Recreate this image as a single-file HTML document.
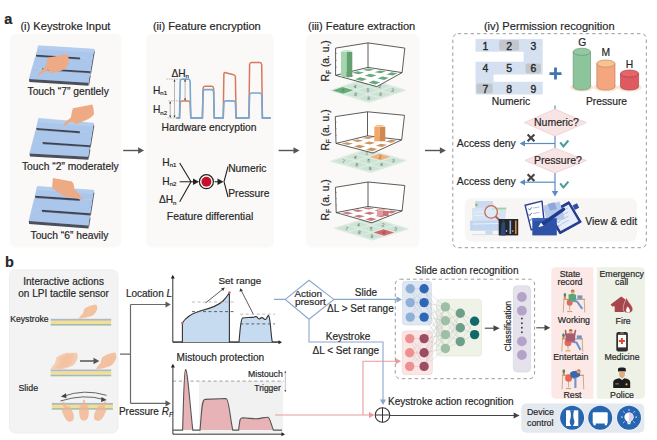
<!DOCTYPE html>
<html><head><meta charset="utf-8">
<style>
html,body{margin:0;padding:0;background:#fff;width:657px;height:440px;overflow:hidden}
svg{display:block}
text{font-family:"Liberation Sans",sans-serif;fill:#262626;stroke:#262626;stroke-width:0.18px}
</style></head><body>
<svg width="657" height="440" viewBox="0 0 657 440">

<text x="4.3" y="23.6" font-size="14.5" fill="#111" font-weight="bold" >a</text>
<rect x="10" y="33.7" width="111.3" height="213.8" rx="6" fill="#faf9f7"/>
<rect x="146.3" y="33.7" width="127.5" height="213.8" rx="6" fill="#faf9f7"/>
<rect x="305.8" y="33.7" width="113.5" height="213.8" rx="6" fill="#faf9f7"/>
<rect x="452.8" y="33.7" width="193.5" height="214" rx="5" fill="none" stroke="#9a9a9a" stroke-width="1" stroke-dasharray="3.4 3"/>
<text x="20.4" y="29.6" font-size="11.1" >(i) Keystroke Input</text>
<text x="152.9" y="29.6" font-size="11.1" >(ii) Feature encryption</text>
<text x="308" y="29.6" font-size="11.1" >(iii) Feature extraction</text>
<text x="483.9" y="29.6" font-size="11.1" >(iv) Permission recognition</text>
<line x1="123.2" y1="150.5" x2="139.1" y2="150.5" stroke="#555" stroke-width="1.4"/>
<path d="M138.1,147.2 L144.1,150.5 L138.1,153.8z" fill="#555"/>
<line x1="278.6" y1="150.5" x2="294.5" y2="150.5" stroke="#555" stroke-width="1.4"/>
<path d="M293.5,147.2 L299.5,150.5 L293.5,153.8z" fill="#555"/>
<line x1="425" y1="150.5" x2="440.9" y2="150.5" stroke="#555" stroke-width="1.4"/>
<path d="M439.9,147.2 L445.9,150.5 L439.9,153.8z" fill="#555"/>
<polygon points="94.00,49.20 90.27,71.14 90.97,74.14 94.70,52.20" fill="#555b6a"/>
<polygon points="89.92,73.15 88.30,82.70 89.00,85.70 90.62,76.15" fill="#555b6a"/>
<polygon points="38.50,45.80 94.00,49.20 92.46,58.25 35.94,54.76" fill="#aac6ea" stroke="#aac6ea" stroke-width="0.35"/>
<polygon points="80.03,57.48 92.46,58.25 92.06,60.59 79.57,59.82" fill="#aac6ea" stroke="#aac6ea" stroke-width="0.35"/>
<polygon points="38.50,45.80 94.00,49.20 93.43,52.55 37.55,49.12" fill="#b4cdee" stroke="#b4cdee" stroke-width="0.35"/>
<polygon points="35.94,54.76 80.03,57.48 80.33,60.48 36.23,57.76" fill="#3d4250"/>
<polygon points="35.36,56.76 92.12,60.26 90.27,71.14 32.28,67.55" fill="#aac6ea" stroke="#aac6ea" stroke-width="0.35"/>
<polygon points="32.28,67.55 42.14,68.16 41.52,70.48 31.61,69.87" fill="#aac6ea" stroke="#aac6ea" stroke-width="0.35"/>
<polygon points="42.14,68.16 90.27,71.14 90.57,74.14 42.44,71.16" fill="#3d4250"/>
<polygon points="31.71,69.54 89.92,73.15 88.30,82.70 29.00,79.00" fill="#aac6ea" stroke="#aac6ea" stroke-width="0.35"/>
<polygon points="29.00,79.00 88.30,82.70 88.60,85.70 29.30,82.00" fill="#4a4f5c"/>
<polygon points="93.50,123.20 89.90,145.21 90.60,148.21 94.20,126.20" fill="#555b6a"/>
<polygon points="89.57,147.22 88.00,156.80 88.70,159.80 90.27,150.22" fill="#555b6a"/>
<polygon points="38.70,118.40 93.50,123.20 92.02,132.27 36.24,127.88" fill="#aac6ea" stroke="#aac6ea" stroke-width="0.35"/>
<polygon points="79.75,131.31 92.02,132.27 91.63,134.62 79.30,133.68" fill="#aac6ea" stroke="#aac6ea" stroke-width="0.35"/>
<polygon points="38.70,118.40 93.50,123.20 92.95,126.56 37.79,121.91" fill="#b4cdee" stroke="#b4cdee" stroke-width="0.35"/>
<polygon points="36.24,127.88 79.75,131.31 80.05,134.31 36.54,130.88" fill="#3d4250"/>
<polygon points="35.70,129.98 91.69,134.29 89.90,145.21 32.74,141.39" fill="#aac6ea" stroke="#aac6ea" stroke-width="0.35"/>
<polygon points="32.74,141.39 42.46,142.04 41.86,144.48 32.10,143.85" fill="#aac6ea" stroke="#aac6ea" stroke-width="0.35"/>
<polygon points="42.46,142.04 89.90,145.21 90.20,148.21 42.76,145.04" fill="#3d4250"/>
<polygon points="32.19,143.50 89.57,147.22 88.00,156.80 29.60,153.50" fill="#aac6ea" stroke="#aac6ea" stroke-width="0.35"/>
<polygon points="29.60,153.50 88.00,156.80 88.30,159.80 29.90,156.50" fill="#4a4f5c"/>
<polygon points="93.60,190.20 90.06,213.32 90.76,216.32 94.30,193.20" fill="#555b6a"/>
<polygon points="89.74,215.44 88.20,225.50 88.90,228.50 90.44,218.44" fill="#555b6a"/>
<polygon points="37.30,186.50 93.60,190.20 92.14,199.73 35.00,195.81" fill="#aac6ea" stroke="#aac6ea" stroke-width="0.35"/>
<polygon points="79.57,198.87 92.14,199.73 91.76,202.20 79.15,201.33" fill="#aac6ea" stroke="#aac6ea" stroke-width="0.35"/>
<polygon points="37.30,186.50 93.60,190.20 93.06,193.73 36.45,189.95" fill="#b4cdee" stroke="#b4cdee" stroke-width="0.35"/>
<polygon points="35.00,195.81 79.57,198.87 79.87,201.87 35.30,198.81" fill="#3d4250"/>
<polygon points="34.49,197.88 91.82,201.85 90.06,213.32 31.73,209.10" fill="#aac6ea" stroke="#aac6ea" stroke-width="0.35"/>
<polygon points="31.73,209.10 41.65,209.82 41.09,212.24 31.14,211.51" fill="#aac6ea" stroke="#aac6ea" stroke-width="0.35"/>
<polygon points="41.65,209.82 90.06,213.32 90.36,216.32 41.95,212.82" fill="#3d4250"/>
<polygon points="31.22,211.17 89.74,215.44 88.20,225.50 28.80,221.00" fill="#aac6ea" stroke="#aac6ea" stroke-width="0.35"/>
<polygon points="28.80,221.00 88.20,225.50 88.50,228.50 29.10,224.00" fill="#4a4f5c"/>
<path d="M47.9,57.7 L67.4,54.1 L68.6,58 L69,63.3 Q66,68.5 61.8,70.4 L55,72.6 Q52,73.5 50.2,72.8 L48.5,70 Q45,71.5 41,74.2 Q38.5,75.8 38,75 Q38.5,73.5 41,71 L45.9,66 Q46.5,61 47.9,57.7z" fill="#eeaa84"/>
<path d="M72.9,108.3 L92.4,104.4 L93.5,109 L94,114.3 Q91.5,117.5 88.4,119.1 L80,122.8 Q77,124 74.5,123.5 L72.3,121.3 Q68,123 65,125.5 Q63,126.8 63,126 Q63.8,124 66,121.5 L70.9,117.5 Q71.5,112 72.9,108.3z" fill="#eeaa84"/>
<path d="M53,178 L72,181.5 L73.6,183.9 L74.4,189.1 Q78.5,193 81.5,197.5 Q82.8,199.5 82,199.6 Q79,199.2 75.5,197.8 L69,197.4 Q63,196 58.5,192.7 L52.2,187.9 Q52.3,182 53,178z" fill="#eeaa84"/>
<text x="27.5" y="94.8" font-size="10.3" >Touch “7” gentlely</text>
<text x="21.9" y="169.9" font-size="10.3" >Touch “2” moderately</text>
<text x="30.5" y="239.4" font-size="10.3" >Touch “6” heavily</text>
<path d="M176.5,117.9 L179.5,117.9 L180.2,103 Q180.5,101 182.0,101 L188.3,101 Q189.8,101 190.10000000000002,103 L190.8,117.9 L202.4,117.9 L203.1,88.3 Q203.4,86.3 204.9,86.3 L211.8,86.3 Q213.3,86.3 213.60000000000002,88.3 L214.3,117.9 L223.2,117.9 L223.89999999999998,73.8 Q224.2,72.0 225.7,72.8 L233.6,74.8 Q235.1,74.8 235.4,76.8 L236.1,117.9 L248.9,117.9 L249.6,64.5 Q249.9,62.5 251.4,62.5 L259.9,62.5 Q261.4,62.5 261.7,64.5 L262.4,117.9 L270.7,117.9" fill="none" stroke="#d8785a" stroke-width="1.5"/>
<path d="M176.5,117.9 L179.5,117.9 L180.2,81.1 Q180.5,79.1 182.0,79.1 L188.3,79.1 Q189.8,79.1 190.10000000000002,81.1 L190.8,117.9 L202.4,117.9 L203.1,91.6 Q203.4,89.6 204.9,89.6 L211.8,89.6 Q213.3,89.6 213.60000000000002,91.6 L214.3,117.9 L223.2,117.9 L223.89999999999998,102.9 Q224.2,100.9 225.7,100.9 L233.6,100.9 Q235.1,100.9 235.4,102.9 L236.1,117.9 L248.9,117.9 L249.6,95 Q249.9,93 251.4,93 L259.9,93 Q261.4,93 261.7,95 L262.4,117.9 L270.7,117.9" fill="none" stroke="#74a8d6" stroke-width="1.6"/>
<g stroke="#888" stroke-width="0.6" stroke-dasharray="1.5 1">
<line x1="166.3" y1="79.1" x2="181" y2="79.1"/><line x1="168.4" y1="100.9" x2="181" y2="100.9"/><line x1="167.7" y1="117.9" x2="178" y2="117.9"/>
</g>
<g stroke="#999" stroke-width="0.7">
<line x1="174.5" y1="80" x2="174.5" y2="117"/><line x1="170.2" y1="102" x2="170.2" y2="117"/><line x1="185.1" y1="80" x2="185.1" y2="100"/>
</g>
<g fill="#333"><path d="M173.5,81.5 L174.5,79.3 L175.5,81.5z"/><path d="M173.5,115.5 L174.5,117.7 L175.5,115.5z"/><path d="M169.2,103.5 L170.2,101.3 L171.2,103.5z"/><path d="M169.2,115.5 L170.2,117.7 L171.2,115.5z"/><path d="M184.1,81.5 L185.1,79.3 L186.1,81.5z"/><path d="M184.1,98.5 L185.1,100.7 L186.1,98.5z"/></g>
<text x="171.4" y="76.8" font-size="10.2">ΔH<tspan font-size="6.1" dy="1.6">n</tspan></text>
<text x="153" y="93.6" font-size="10.2">H<tspan font-size="6.1" dy="1.6">n1</tspan></text>
<text x="153" y="113.4" font-size="10.2">H<tspan font-size="6.1" dy="1.6">n2</tspan></text>
<text x="161.5" y="131.2" font-size="10.3" >Hardware encryption</text>
<text x="162.3" y="165.8" font-size="10.2">H<tspan font-size="6.1" dy="1.6">n1</tspan></text>
<text x="162.3" y="184.6" font-size="10.2">H<tspan font-size="6.1" dy="1.6">n2</tspan></text>
<text x="158.9" y="203.4" font-size="10.2">ΔH<tspan font-size="6.1" dy="1.6">n</tspan></text>
<g stroke="#222" stroke-width="1.1" fill="none"><path d="M179.7,163 L191,181.7 L179.7,201.8 M179.7,181.7 L194,181.7"/>
<path d="M214.5,181.7 L220,181.7 M224,181.7 L227.4,169 L228,166.5 M224,181.7 L227.4,194.5 L228,197"/></g>
<path d="M193,178.4 L199,181.7 L193,185z" fill="#222"/>
<path d="M217.5,178.4 L223.5,181.7 L217.5,185z" fill="#222"/>
<circle cx="206.4" cy="181.7" r="7" fill="#fff" stroke="#222" stroke-width="1.2"/>
<circle cx="206.4" cy="181.7" r="5" fill="#c8102e"/>
<text x="228.2" y="171.8" font-size="10.3" >Numeric</text>
<text x="228.2" y="196.5" font-size="10.3" >Pressure</text>
<text x="166.8" y="220.2" font-size="10.4" >Feature differential</text>
<polygon points="366.8,78.5 405.1,90.3 368.8,102.2 330.5,90.4" fill="#dfece3" stroke="#dfece3" stroke-width="1.5" stroke-linejoin="round"/>
<polygon points="366.85,79.13 377.58,82.44 367.41,85.77 356.69,82.46" fill="#cde3d5"/>
<text x="367.1" y="84.0" font-size="4.6" text-anchor="middle" style="fill:#3d5a49;stroke:none" transform="rotate(12 367.1 82.5)">1</text>
<polygon points="354.75,83.10 365.48,86.40 355.31,89.73 344.59,86.43" fill="#cde3d5"/>
<text x="355.0" y="88.0" font-size="4.6" text-anchor="middle" style="fill:#3d5a49;stroke:none" transform="rotate(12 355.0 86.4)">4</text>
<polygon points="342.65,87.07 353.38,90.37 343.21,93.70 332.49,90.40" fill="#66ad78"/>
<text x="342.9" y="92.0" font-size="4.6" text-anchor="middle" style="fill:#3d5a49;stroke:none" transform="rotate(12 342.9 90.4)">7</text>
<polygon points="379.62,83.07 390.34,86.37 380.18,89.70 369.46,86.40" fill="#cde3d5"/>
<text x="379.9" y="88.0" font-size="4.6" text-anchor="middle" style="fill:#3d5a49;stroke:none" transform="rotate(12 379.9 86.4)">2</text>
<polygon points="367.52,87.03 378.24,90.34 368.08,93.67 357.36,90.36" fill="#cde3d5"/>
<text x="367.8" y="91.9" font-size="4.6" text-anchor="middle" style="fill:#3d5a49;stroke:none" transform="rotate(12 367.8 90.3)">5</text>
<polygon points="355.42,91.00 366.14,94.30 355.98,97.63 345.26,94.33" fill="#cde3d5"/>
<text x="355.7" y="95.9" font-size="4.6" text-anchor="middle" style="fill:#3d5a49;stroke:none" transform="rotate(12 355.7 94.3)">8</text>
<polygon points="392.39,87.00 403.11,90.30 392.95,93.63 382.22,90.33" fill="#cde3d5"/>
<text x="392.7" y="91.9" font-size="4.6" text-anchor="middle" style="fill:#3d5a49;stroke:none" transform="rotate(12 392.7 90.3)">3</text>
<polygon points="380.29,90.97 391.01,94.27 380.85,97.60 370.12,94.30" fill="#cde3d5"/>
<text x="380.6" y="95.9" font-size="4.6" text-anchor="middle" style="fill:#3d5a49;stroke:none" transform="rotate(12 380.6 94.3)">6</text>
<polygon points="368.19,94.93 378.91,98.24 368.75,101.57 358.02,98.26" fill="#cde3d5"/>
<text x="368.5" y="99.8" font-size="4.6" text-anchor="middle" style="fill:#3d5a49;stroke:none" transform="rotate(12 368.5 98.2)">9</text>
<polygon points="335.6,48.1 368,42.9 404.8,48.1 402.1,72.6 376.8,86.6 335.6,75.3" fill="#fff"/>
<polygon points="368.18,68.49 374.19,69.47 368.89,71.11 362.66,69.94" fill="#6aa97b"/>
<polygon points="357.57,71.28 363.99,72.62 358.69,74.26 352.05,72.74" fill="#6aa97b"/>
<polygon points="346.96,74.08 353.79,75.77 348.49,77.41 341.44,75.53" fill="#6aa97b"/>
<polygon points="379.74,70.38 385.75,71.37 380.85,73.36 374.63,72.19" fill="#6aa97b"/>
<polygon points="369.92,73.86 376.34,75.20 371.44,77.18 364.81,75.66" fill="#6aa97b"/>
<polygon points="360.09,77.33 366.92,79.02 362.03,81.01 354.99,79.14" fill="#6aa97b"/>
<polygon points="391.29,72.28 397.30,73.26 392.82,75.61 386.60,74.44" fill="#6aa97b"/>
<polygon points="382.26,76.43 388.68,77.77 384.20,80.11 377.56,78.59" fill="#6aa97b"/>
<polygon points="373.23,80.58 380.06,82.27 375.57,84.62 368.53,82.74" fill="#6aa97b"/>
<path d="M335.6,48.1 L368,42.9 L404.8,48.1 M368,42.9 L368,67.4 M335.6,48.1 L335.6,75.3 L376.8,86.6 L402.1,72.6 L404.8,48.1 M335.6,75.3 L368,67.4 L402.1,72.6" fill="none" stroke="#333" stroke-width="0.8" stroke-linejoin="round"/>
<line x1="335.6" y1="53.5" x2="337.1" y2="53.5" stroke="#666" stroke-width="0.5"/>
<line x1="335.6" y1="60.3" x2="337.1" y2="60.3" stroke="#666" stroke-width="0.5"/>
<line x1="335.6" y1="67.1" x2="337.1" y2="67.1" stroke="#666" stroke-width="0.5"/>
<rect x="340.9" y="51.699999999999996" width="5.70" height="25.3" fill="#a3d6ad"/>
<rect x="346.60" y="51.699999999999996" width="5.70" height="25.3" fill="#62a071"/>
<polygon points="340.9,51.699999999999996 343.75,49.9 352.3,49.9 346.60,51.699999999999996" fill="#c5e8cb"/>
<text transform="translate(329.3,81.4) rotate(-90)" font-size="10.3">R<tspan font-size="6.5" dy="1.8">F</tspan><tspan dy="-1.8"> (a. u.)</tspan></text>
<polygon points="366.1,149.5 405.8,160.5 370.9,172.2 331.2,161.2" fill="#dfece3" stroke="#dfece3" stroke-width="1.5" stroke-linejoin="round"/>
<polygon points="366.23,150.11 377.34,153.19 367.57,156.46 356.46,153.38" fill="#cde3d5"/>
<text x="366.9" y="154.9" font-size="4.6" text-anchor="middle" style="fill:#3d5a49;stroke:none" transform="rotate(12 366.9 153.3)">1</text>
<polygon points="354.59,154.01 365.71,157.09 355.94,160.36 344.82,157.28" fill="#cde3d5"/>
<text x="355.3" y="158.8" font-size="4.6" text-anchor="middle" style="fill:#3d5a49;stroke:none" transform="rotate(12 355.3 157.2)">4</text>
<polygon points="342.96,157.91 354.08,160.99 344.31,164.26 333.19,161.18" fill="#cde3d5"/>
<text x="343.6" y="162.7" font-size="4.6" text-anchor="middle" style="fill:#3d5a49;stroke:none" transform="rotate(12 343.6 161.1)">7</text>
<polygon points="379.46,153.77 390.58,156.85 380.81,160.13 369.69,157.05" fill="#f0b27a"/>
<text x="380.1" y="158.6" font-size="4.6" text-anchor="middle" style="fill:#3d5a49;stroke:none" transform="rotate(12 380.1 157.0)">2</text>
<polygon points="367.83,157.67 378.94,160.75 369.17,164.03 358.06,160.95" fill="#cde3d5"/>
<text x="368.5" y="162.4" font-size="4.6" text-anchor="middle" style="fill:#3d5a49;stroke:none" transform="rotate(12 368.5 160.8)">5</text>
<polygon points="356.19,161.57 367.31,164.65 357.54,167.93 346.42,164.85" fill="#cde3d5"/>
<text x="356.9" y="166.3" font-size="4.6" text-anchor="middle" style="fill:#3d5a49;stroke:none" transform="rotate(12 356.9 164.8)">8</text>
<polygon points="392.69,157.44 403.81,160.52 394.04,163.79 382.92,160.71" fill="#cde3d5"/>
<text x="393.4" y="162.2" font-size="4.6" text-anchor="middle" style="fill:#3d5a49;stroke:none" transform="rotate(12 393.4 160.6)">3</text>
<polygon points="381.06,161.34 392.18,164.42 382.41,167.69 371.29,164.61" fill="#cde3d5"/>
<text x="381.7" y="166.1" font-size="4.6" text-anchor="middle" style="fill:#3d5a49;stroke:none" transform="rotate(12 381.7 164.5)">6</text>
<polygon points="369.43,165.24 380.54,168.32 370.77,171.59 359.66,168.51" fill="#cde3d5"/>
<text x="370.1" y="170.0" font-size="4.6" text-anchor="middle" style="fill:#3d5a49;stroke:none" transform="rotate(12 370.1 168.4)">9</text>
<polygon points="335.3,116.6 367.5,111.8 404.5,115.3 401.7,139.9 373,153 336,143.4" fill="#fff"/>
<polygon points="367.73,136.77 373.70,137.56 368.36,139.12 362.31,138.16" fill="#cf945f"/>
<polygon points="357.31,139.45 363.44,140.56 358.10,142.11 351.89,140.84" fill="#cf945f"/>
<polygon points="346.88,142.13 353.17,143.55 347.84,145.11 341.46,143.52" fill="#cf945f"/>
<polygon points="379.21,138.28 385.18,139.07 380.00,140.95 373.95,140.00" fill="#cf945f"/>
<polygon points="369.09,141.58 375.22,142.68 370.05,144.56 363.83,143.29" fill="#cf945f"/>
<polygon points="358.98,144.87 365.27,146.29 360.10,148.17 353.72,146.58" fill="#cf945f"/>
<polygon points="390.68,139.80 396.65,140.58 391.64,142.78 385.59,141.83" fill="#cf945f"/>
<polygon points="380.88,143.70 387.01,144.80 382.00,147.00 375.78,145.73" fill="#cf945f"/>
<polygon points="371.08,147.60 377.37,149.02 372.35,151.22 365.98,149.63" fill="#cf945f"/>
<path d="M335.3,116.6 L367.5,111.8 L404.5,115.3 M367.5,111.8 L367.5,135.8 M335.3,116.6 L336,143.4 L373,153 L401.7,139.9 L404.5,115.3 M336,143.4 L367.5,135.8 L401.7,139.9" fill="none" stroke="#333" stroke-width="0.8" stroke-linejoin="round"/>
<line x1="335.3" y1="122.0" x2="336.8" y2="122.0" stroke="#666" stroke-width="0.5"/>
<line x1="335.3" y1="128.7" x2="336.8" y2="128.7" stroke="#666" stroke-width="0.5"/>
<line x1="335.3" y1="135.4" x2="336.8" y2="135.4" stroke="#666" stroke-width="0.5"/>
<rect x="374.3" y="126.7" width="5.50" height="14.600000000000005" fill="#f2a86a"/>
<rect x="379.80" y="126.7" width="5.50" height="14.600000000000005" fill="#cf8a52"/>
<polygon points="374.3,126.7 377.05,124.9 385.3,124.9 379.80,126.7" fill="#f7c08a"/>
<text transform="translate(329.3,150.6) rotate(-90)" font-size="10.3">R<tspan font-size="6.5" dy="1.8">F</tspan><tspan dy="-1.8"> (a. u.)</tspan></text>
<polygon points="370.2,217.4 407.9,229 372.3,239.9 334.6,228.3" fill="#dfece3" stroke="#dfece3" stroke-width="1.5" stroke-linejoin="round"/>
<polygon points="370.26,218.00 380.81,221.25 370.84,224.30 360.29,221.05" fill="#cde3d5"/>
<text x="370.6" y="222.8" font-size="4.6" text-anchor="middle" style="fill:#3d5a49;stroke:none" transform="rotate(12 370.6 221.2)">1</text>
<polygon points="358.39,221.63 368.95,224.88 358.98,227.93 348.42,224.69" fill="#cde3d5"/>
<text x="358.7" y="226.4" font-size="4.6" text-anchor="middle" style="fill:#3d5a49;stroke:none" transform="rotate(12 358.7 224.8)">4</text>
<polygon points="346.52,225.27 357.08,228.51 347.11,231.57 336.55,228.32" fill="#cde3d5"/>
<text x="346.8" y="230.0" font-size="4.6" text-anchor="middle" style="fill:#3d5a49;stroke:none" transform="rotate(12 346.8 228.4)">7</text>
<polygon points="382.82,221.87 393.38,225.11 383.41,228.17 372.85,224.92" fill="#cde3d5"/>
<text x="383.1" y="226.6" font-size="4.6" text-anchor="middle" style="fill:#3d5a49;stroke:none" transform="rotate(12 383.1 225.0)">2</text>
<polygon points="370.96,225.50 381.51,228.75 371.54,231.80 360.99,228.55" fill="#cde3d5"/>
<text x="371.2" y="230.2" font-size="4.6" text-anchor="middle" style="fill:#3d5a49;stroke:none" transform="rotate(12 371.2 228.6)">5</text>
<polygon points="359.09,229.13 369.65,232.38 359.68,235.43 349.12,232.19" fill="#cde3d5"/>
<text x="359.4" y="233.9" font-size="4.6" text-anchor="middle" style="fill:#3d5a49;stroke:none" transform="rotate(12 359.4 232.3)">8</text>
<polygon points="395.39,225.73 405.95,228.98 395.98,232.03 385.42,228.79" fill="#cde3d5"/>
<text x="395.7" y="230.5" font-size="4.6" text-anchor="middle" style="fill:#3d5a49;stroke:none" transform="rotate(12 395.7 228.9)">3</text>
<polygon points="383.52,229.37 394.08,232.61 384.11,235.67 373.55,232.42" fill="#d4676b"/>
<text x="383.8" y="234.1" font-size="4.6" text-anchor="middle" style="fill:#3d5a49;stroke:none" transform="rotate(12 383.8 232.5)">6</text>
<polygon points="371.66,233.00 382.21,236.25 372.24,239.30 361.69,236.05" fill="#cde3d5"/>
<text x="371.9" y="237.8" font-size="4.6" text-anchor="middle" style="fill:#3d5a49;stroke:none" transform="rotate(12 371.9 236.2)">9</text>
<polygon points="335.5,187.3 368,182 404.8,185.5 402.1,210.9 371.8,222.8 336.2,212.6" fill="#fff"/>
<polygon points="368.19,207.38 374.13,208.22 368.68,209.53 362.70,208.51" fill="#c77b80"/>
<polygon points="357.63,209.57 363.65,210.74 358.21,212.06 352.14,210.70" fill="#c77b80"/>
<polygon points="347.07,211.75 353.18,213.27 347.73,214.58 341.58,212.89" fill="#c77b80"/>
<polygon points="379.60,209.00 385.53,209.84 380.17,211.49 374.20,210.47" fill="#c77b80"/>
<polygon points="369.21,211.83 375.23,213.01 369.87,214.66 363.80,213.30" fill="#c77b80"/>
<polygon points="358.81,214.66 364.92,216.18 359.56,217.82 353.41,216.14" fill="#c77b80"/>
<polygon points="391.01,210.62 396.94,211.46 391.67,213.45 385.69,212.43" fill="#c77b80"/>
<polygon points="380.78,214.10 386.80,215.27 381.53,217.26 375.46,215.90" fill="#c77b80"/>
<polygon points="370.55,217.57 376.66,219.09 371.39,221.07 365.24,219.38" fill="#c77b80"/>
<path d="M335.5,187.3 L368,182 L404.8,185.5 M368,182 L368,206.5 M335.5,187.3 L336.2,212.6 L371.8,222.8 L402.1,210.9 L404.8,185.5 M336.2,212.6 L368,206.5 L402.1,210.9" fill="none" stroke="#333" stroke-width="0.8" stroke-linejoin="round"/>
<line x1="335.5" y1="192.4" x2="337.0" y2="192.4" stroke="#666" stroke-width="0.5"/>
<line x1="335.5" y1="198.7" x2="337.0" y2="198.7" stroke="#666" stroke-width="0.5"/>
<line x1="335.5" y1="205.0" x2="337.0" y2="205.0" stroke="#666" stroke-width="0.5"/>
<rect x="377" y="210.9" width="5.85" height="5.100000000000006" fill="#e59a9c"/>
<rect x="382.85" y="210.9" width="5.85" height="5.100000000000006" fill="#c97478"/>
<polygon points="377,210.9 379.93,209.1 388.7,209.1 382.85,210.9" fill="#efb4b6"/>
<text transform="translate(329.3,220.5) rotate(-90)" font-size="10.3">R<tspan font-size="6.5" dy="1.8">F</tspan><tspan dy="-1.8"> (a. u.)</tspan></text>
<path d="M475.5,39.1 L542.7,39.1 L542.7,74.5 L493.6,74.5 L493.6,81.8 L542.7,81.8 L542.7,94.5 L475.5,94.5 L475.5,61.8 L523.6,61.8 L523.6,51.8 L475.5,51.8z" fill="#d5e1f0"/>
<rect x="499.1" y="40" width="20" height="10.4" rx="2" fill="#c2c6cd"/>
<rect x="525.5" y="63.6" width="15.4" height="10" rx="2" fill="#c2c6cd"/>
<rect x="476.4" y="83.6" width="16.3" height="10" rx="2" fill="#c2c6cd"/>
<text x="485.5" y="50" font-size="10.4" text-anchor="middle" style="stroke-width:0.35px">1</text>
<text x="509.1" y="50" font-size="10.4" text-anchor="middle" style="stroke-width:0.35px">2</text>
<text x="533.3" y="50" font-size="10.4" text-anchor="middle" style="stroke-width:0.35px">3</text>
<text x="485.5" y="72.2" font-size="10.4" text-anchor="middle" style="stroke-width:0.35px">4</text>
<text x="509.1" y="72.2" font-size="10.4" text-anchor="middle" style="stroke-width:0.35px">5</text>
<text x="533.3" y="72.2" font-size="10.4" text-anchor="middle" style="stroke-width:0.35px">6</text>
<text x="485.5" y="92.7" font-size="10.4" text-anchor="middle" style="stroke-width:0.35px">7</text>
<text x="509.1" y="92.7" font-size="10.4" text-anchor="middle" style="stroke-width:0.35px">8</text>
<text x="533.3" y="92.7" font-size="10.4" text-anchor="middle" style="stroke-width:0.35px">9</text>
<text x="491.8" y="104.5" font-size="10.3" >Numeric</text>
<path d="M549.5,73.6 L561.5,73.6 M555.5,67.6 L555.5,79.6" stroke="#3f74b3" stroke-width="2.8"/>
<ellipse cx="581.85" cy="87.5" rx="11.649999999999977" ry="4.1" fill="#fbe3d2"/>
<path d="M573.2,51.8 L573.2,86.5 A8.649999999999977,3.6 0 0 0 590.5,86.5 L590.5,51.8z" fill="#8cc49c" stroke="#5e8f6b" stroke-width="0.6"/>
<ellipse cx="581.85" cy="51.8" rx="8.649999999999977" ry="3.6" fill="#93c9a2" stroke="#5e8f6b" stroke-width="0.6"/>
<ellipse cx="605.9" cy="87.5" rx="12.100000000000023" ry="4.1" fill="#fbe3d2"/>
<path d="M596.8,63.6 L596.8,86.5 A9.100000000000023,3.6 0 0 0 615,86.5 L615,63.6z" fill="#f5a67f" stroke="#b77a58" stroke-width="0.6"/>
<ellipse cx="605.9" cy="63.6" rx="9.100000000000023" ry="3.6" fill="#f7c38f" stroke="#b77a58" stroke-width="0.6"/>
<ellipse cx="629.55" cy="87.5" rx="12.050000000000011" ry="4.1" fill="#fbe3d2"/>
<path d="M620.5,73.6 L620.5,86.5 A9.050000000000011,3.6 0 0 0 638.6,86.5 L638.6,73.6z" fill="#de5a60" stroke="#9c3c40" stroke-width="0.6"/>
<ellipse cx="629.55" cy="73.6" rx="9.050000000000011" ry="3.6" fill="#e4656a" stroke="#9c3c40" stroke-width="0.6"/>
<text x="582.3" y="45.5" font-size="10.3" text-anchor="middle" >G</text>
<text x="605.9" y="56.4" font-size="10.3" text-anchor="middle" >M</text>
<text x="629.5" y="68.2" font-size="10.3" text-anchor="middle" >H</text>
<text x="585.9" y="104.5" font-size="10.3" >Pressure</text>
<path d="M555,105.5 L555,109 M555,136 L555,148 M555,173 L555,192" stroke="#5b8cc4" stroke-width="1.2"/>
<path d="M551.8,191 L555,196.5 L558.2,191z" fill="#5b8cc4"/>
<polygon points="524.2,122.6 555,109.1 586.3,122.6 555,136.1" fill="#f8e4e4" stroke="#ecc9c9" stroke-width="0.7"/>
<polygon points="524.9,160.5 555,148 586.3,160.5 555,173" fill="#f8e4e4" stroke="#ecc9c9" stroke-width="0.7"/>
<text x="534" y="125.6" font-size="10.5" >Numeric?</text>
<text x="534" y="163.9" font-size="10.5" >Pressure?</text>
<path d="M555,143.5 L524,143.5" stroke="#5b8cc4" stroke-width="1.2"/>
<path d="M525,140.5 L519.6,143.5 L525,146.5z" fill="#5b8cc4"/>
<path d="M527.6,134.4 L534.4,141.20000000000002 M534.4,134.4 L527.6,141.20000000000002" stroke="#444" stroke-width="2.1"/>
<path d="M560.2,142.3 L563.4,146.4 L568.4,140.5" fill="none" stroke="#4a9a98" stroke-width="2"/>
<path d="M555,182.2 L524,182.2" stroke="#5b8cc4" stroke-width="1.2"/>
<path d="M525,179.2 L519.6,182.2 L525,185.2z" fill="#5b8cc4"/>
<path d="M527.6,174.2 L534.4,181.0 M534.4,174.2 L527.6,181.0" stroke="#444" stroke-width="2.1"/>
<path d="M560.2,183.4 L563.4,187.5 L568.4,181.6" fill="none" stroke="#4a9a98" stroke-width="2"/>
<text x="456.8" y="146.8" font-size="10.4" >Access deny</text>
<text x="456.8" y="184.5" font-size="10.4" >Access deny</text>
<rect x="464.8" y="198.3" width="172.2" height="43.5" rx="7" fill="#f7f6f4"/>
<text x="585.3" y="225.2" font-size="10.4" >View &amp; edit</text>
<path d="M475.2,201.1 L492.6,201.1 L494,207.3 L475.2,210z" fill="#c9daf1"/>
<path d="M472.2,208 L506.9,207.3 L505,219.5 L472.2,220.5z" fill="#d6e3f5"/>
<path d="M470.1,220.6 L503.9,220 L503.9,230.8 L470.1,230.8z" fill="#c3d6ef"/>
<path d="M474,212 L500,211.5 M474,215.5 L498,215 M473,224 L500,223.5" stroke="#e9f0fa" stroke-width="1"/>
<rect x="485.4" y="230.8" width="7.2" height="3.6" fill="#c9d9ee"/><path d="M472,234.6 L500,234.6" stroke="#cdd9ea" stroke-width="0.8"/>
<rect x="491.6" y="207.8" width="14.3" height="1.6" fill="#a4d48c"/>
<rect x="475.4" y="203.6" width="2" height="2.6" fill="#7fbf5f"/>
<circle cx="491.1" cy="211.9" r="6.3" fill="#e2ecf8" fill-opacity="0.6" stroke="#c86a5a" stroke-width="1.3"/>
<path d="M495.8,216.6 L505.9,226.7" stroke="#b9574a" stroke-width="2"/>
<rect x="498.7" y="219" width="19.5" height="16.4" fill="#23262c"/>
<rect x="509.5" y="220.5" width="1.6" height="13.5" fill="#8fb0d8"/><rect x="515" y="220.5" width="1.6" height="13.5" fill="#e08a3a"/>
<circle cx="506.5" cy="231" r="0.8" fill="#fff"/><circle cx="512.8" cy="231" r="0.8" fill="#f0c060"/>
<path d="M500.5,235.4 L501.5,224 C502,221.5 504,220.5 505,222.5 L505.5,235.4z" fill="#2f4870"/><circle cx="503.2" cy="220.8" r="1.4" fill="#2a3550"/>
<polygon points="525.1,205.2 542,201.1 544.5,225.7 531.2,229.8" fill="#fff" stroke="#2b3f8c" stroke-width="1.4" stroke-linejoin="round"/>
<path d="M528.5,208.5 l1.2,1.6 l2.2,-2.8" fill="none" stroke="#3a56a8" stroke-width="0.8"/>
<line x1="533.2" y1="208.0" x2="539.5" y2="206.9" stroke="#9fb4dc" stroke-width="0.9"/>
<path d="M528.5,214.0 l1.2,1.6 l2.2,-2.8" fill="none" stroke="#3a56a8" stroke-width="0.8"/>
<line x1="533.2" y1="213.5" x2="539.5" y2="212.4" stroke="#9fb4dc" stroke-width="0.9"/>
<path d="M528.5,219.5 l1.2,1.6 l2.2,-2.8" fill="none" stroke="#3a56a8" stroke-width="0.8"/>
<line x1="533.2" y1="219.0" x2="539.5" y2="217.9" stroke="#9fb4dc" stroke-width="0.9"/>
<polygon points="569,201.6 581.3,222.1 559.9,233.9 547.6,213.4" fill="#263d8f" stroke="#263d8f" stroke-width="1" stroke-linejoin="round"/>
<polygon points="568.6,204.6 578.4,221.2 560.6,230.9 550.8,214.3" fill="#e8eef9"/>
<path d="M556.0,213.0 l1.3,1.5 l2,-2.2" fill="none" stroke="#8aa3d6" stroke-width="0.8"/><line x1="560.0" y1="212.0" x2="568.0" y2="208.0" stroke="#a9bde3" stroke-width="0.8"/>
<path d="M556.6,217.0 l1.3,1.5 l2,-2.2" fill="none" stroke="#8aa3d6" stroke-width="0.8"/><line x1="560.6" y1="216.0" x2="568.3" y2="212.0" stroke="#a9bde3" stroke-width="0.8"/>
<path d="M557.1,221.0 l1.3,1.5 l2,-2.2" fill="none" stroke="#8aa3d6" stroke-width="0.8"/><line x1="561.1" y1="220.0" x2="568.6" y2="216.0" stroke="#a9bde3" stroke-width="0.8"/>
<path d="M557.7,225.0 l1.3,1.5 l2,-2.2" fill="none" stroke="#8aa3d6" stroke-width="0.8"/><line x1="561.7" y1="224.0" x2="568.9" y2="220.0" stroke="#a9bde3" stroke-width="0.8"/>
<polygon points="572.5,205.5 577,203.2 579.2,207.8 574.8,210" fill="#3050a0"/>
<polygon points="543,206 559.5,201.5 565,219 547,222" fill="#b7c9ea"/>
<polygon points="547.5,204 554.5,202.3 557,209 550,210.8" fill="#8fa8d8"/>
<rect x="532.3" y="218.2" width="24.5" height="17.2" fill="#2d52a6"/>
<polygon points="532.3,218.2 544,218.2 546,221 532.3,221" fill="#3b62b8"/>
<path d="M542.5,224 L563.5,209.3" stroke="#1f3c8f" stroke-width="3.4" stroke-linecap="round"/>
<path d="M538.3,227.2 L541,222.5 L543.6,225.8z" fill="#f2f5fb"/>
<text x="5" y="266.6" font-size="14.5" fill="#111" font-weight="bold" >b</text>
<rect x="9.5" y="269.8" width="108.4" height="163.3" rx="6" fill="#f3f3f3" stroke="#ebebeb" stroke-width="0.8"/>
<text x="63.6" y="284.6" font-size="10" text-anchor="middle" >Interactive actions</text>
<text x="63.6" y="296.5" font-size="10" text-anchor="middle" >on LPI tactile sensor</text>
<text x="10.3" y="321.6" font-size="8.6" >Keystroke</text>
<text x="18.5" y="390.9" font-size="8.8" >Slide</text>
<rect x="50.7" y="318.8" width="60.5" height="2" fill="#b0b8c2"/>
<rect x="50.7" y="320.8" width="60.5" height="3.2" fill="#f3de94"/>
<rect x="50.7" y="324.0" width="60.5" height="1.6" fill="#a3bcac"/>
<rect x="50.7" y="369.5" width="60.5" height="2" fill="#b0b8c2"/>
<rect x="50.7" y="371.5" width="60.5" height="3.2" fill="#f3de94"/>
<rect x="50.7" y="374.7" width="60.5" height="1.6" fill="#a3bcac"/>
<rect x="51.8" y="402.9" width="61.10000000000001" height="2" fill="#b0b8c2"/>
<rect x="51.8" y="404.9" width="61.10000000000001" height="3.2" fill="#f3de94"/>
<rect x="51.8" y="408.09999999999997" width="61.10000000000001" height="1.6" fill="#a3bcac"/>
<path transform="translate(78.7,304.6) scale(0.92,0.84)" d="M6,5 C10,2 15,0.5 19,0 C20,2 20.5,4 20,6 C18.5,10 16,13 13,14 C9,15.5 4,16.5 0,17 C1,15 2.5,12.5 4.5,11 C5,9 5.5,7 6,5z" fill="#f3c1a0" opacity="1.0"/>
<path transform="translate(50.7,352.4) scale(0.95,1.0)" d="M6,5 C10,2 15,0.5 19,0 C20,2 20.5,4 20,6 C18.5,10 16,13 13,14 C9,15.5 4,16.5 0,17 C1,15 2.5,12.5 4.5,11 C5,9 5.5,7 6,5z" fill="#f3c1a0" opacity="0.75"/>
<path transform="translate(54.5,352.4) scale(0.95,1.0)" d="M6,5 C10,2 15,0.5 19,0 C20,2 20.5,4 20,6 C18.5,10 16,13 13,14 C9,15.5 4,16.5 0,17 C1,15 2.5,12.5 4.5,11 C5,9 5.5,7 6,5z" fill="#f3c1a0" opacity="0.75"/>
<path transform="translate(58.5,352.4) scale(0.95,1.0)" d="M6,5 C10,2 15,0.5 19,0 C20,2 20.5,4 20,6 C18.5,10 16,13 13,14 C9,15.5 4,16.5 0,17 C1,15 2.5,12.5 4.5,11 C5,9 5.5,7 6,5z" fill="#f3c1a0" opacity="0.8"/>
<path transform="translate(95.8,352.4) scale(1.02,1.0)" d="M6,5 C10,2 15,0.5 19,0 C20,2 20.5,4 20,6 C18.5,10 16,13 13,14 C9,15.5 4,16.5 0,17 C1,15 2.5,12.5 4.5,11 C5,9 5.5,7 6,5z" fill="#f3c1a0" opacity="1.0"/>
<path d="M80,361 L94,361" stroke="#555" stroke-width="1.5"/><path d="M93.5,357.8 L99.4,361 L93.5,364.2z" fill="#555"/>
<path d="M63,396.4 Q84,388.5 106.6,395.3" fill="none" stroke="#555" stroke-width="0.9"/><path d="M60.4,401 Q84,393.5 104,399.5" fill="none" stroke="#555" stroke-width="0.9"/>
<path d="M66,393.2 L60.8,396.5 L66.5,398.2z" fill="#444"/><path d="M101.5,397 L106.8,400 L101,402z" fill="#444"/>
<path transform="translate(63,402) rotate(-24)" d="M-1,0.5 C-0.6,-0.2 0.6,-0.2 1,0.5 L1.4,5.5 C3,5.6 4.5,6.5 4.7,8.5 L4.8,14 C4.6,17.5 3.4,20 1.5,21 L-2,21 C-3.8,19.5 -4.8,16.5 -4.8,13.5 L-4.8,8.5 C-4.6,6.5 -3,5.6 -1.4,5.5z" fill="#f1b48e" opacity="0.8"/>
<path transform="translate(84,399.5) rotate(0)" d="M-1,0.5 C-0.6,-0.2 0.6,-0.2 1,0.5 L1.4,5.5 C3,5.6 4.5,6.5 4.7,8.5 L4.8,14 C4.6,17.5 3.4,20 1.5,21 L-2,21 C-3.8,19.5 -4.8,16.5 -4.8,13.5 L-4.8,8.5 C-4.6,6.5 -3,5.6 -1.4,5.5z" fill="#f1b48e" opacity="0.8"/>
<path transform="translate(105.5,401.5) rotate(26)" d="M-1,0.5 C-0.6,-0.2 0.6,-0.2 1,0.5 L1.4,5.5 C3,5.6 4.5,6.5 4.7,8.5 L4.8,14 C4.6,17.5 3.4,20 1.5,21 L-2,21 C-3.8,19.5 -4.8,16.5 -4.8,13.5 L-4.8,8.5 C-4.6,6.5 -3,5.6 -1.4,5.5z" fill="#f1b48e" opacity="0.8"/>
<path d="M120,354.2 L130.5,354.2 M130.5,304.5 L130.5,403.4 M130.5,304.5 L166,304.5 M130.5,403.4 L166,403.4" stroke="#6a6a6a" stroke-width="1.2" fill="none"/>
<path d="M165.5,301.4 L170.8,304.5 L165.5,307.6z M165.5,400.3 L170.8,403.4 L165.5,406.5z" fill="#5a5a5a"/>
<text x="125.9" y="297" font-size="10">Location <tspan font-style="italic">L</tspan></text>
<text x="118.9" y="415" font-size="10">Pressure <tspan font-style="italic">R</tspan><tspan font-style="italic" font-size="6.5" dy="2">F</tspan></text>
<path d="M172.8,342.2 L280,342.2 M172.8,342.2 L172.8,277" stroke="#333" stroke-width="1" fill="none"/>
<path d="M170.8,278.5 L172.8,274.8 L174.8,278.5z M278.5,340.2 L282,342.2 L278.5,344.2z" fill="#222"/>
<path d="M173,342 L182.4,342 L182.4,323 C186,317 192,313.5 200,311 C210,308.5 218,306 223,301 C226,298 228,295 229.4,292.8 L229.4,342 L239,342 C240,332 240.5,319 242.6,318 C246,317.5 251,317.6 254,317.1 C255,316.6 256.5,316.2 257.5,317.5 C258.5,319 259,319.3 260,318.5 C261,317.6 262.5,317.4 263.5,318.3 C264.5,319.5 265.5,320 266.5,318.5 C267.2,317 267.8,315.2 268.6,315.6 C269.6,316.5 270,322 270.5,326 C271,332 271.5,338 272.3,342 L280,342" fill="#c6daf0" stroke="#333" stroke-width="1.1"/>
<circle cx="182.4" cy="323" r="1.2" fill="#d06070"/><circle cx="229.4" cy="292.8" r="1.3" fill="#d06070"/>
<path d="M192,302 L234,302 M240.3,314.2 L275,314.2" stroke="#aaa" stroke-width="0.8" stroke-dasharray="3 2.5"/>
<path d="M192,311.6 L234,311.6 M240.3,323.9 L275,323.9" stroke="#555" stroke-width="0.9" stroke-dasharray="3 2.5"/>
<path d="M205.6,302.9 L223,289" stroke="#333" stroke-width="0.8"/><path d="M221,288.5 L224.8,287.4 L223.2,291z" fill="#333"/>
<path d="M253.1,313.8 L241.5,291" stroke="#333" stroke-width="0.8"/><path d="M239.5,291.8 L240.3,288.3 L243,290.6z" fill="#333"/>
<text x="218.4" y="283.7" font-size="9.9" >Set range</text>
<rect x="199" y="381.1" width="84" height="53" fill="#f1f1f1"/>
<path d="M172.9,434.2 L282,434.2 M172.9,434.2 L172.9,366" stroke="#333" stroke-width="1" fill="none"/>
<path d="M170.9,367.5 L172.9,363.7 L174.9,367.5z M281.5,432.2 L285,434.2 L281.5,436.2z" fill="#222"/>
<path d="M173,381.1 L284,381.1" stroke="#8a8a8a" stroke-width="0.8" stroke-dasharray="3.2 2.6"/>
<path d="M173,430.1 L182.6,430.1 C183.5,405 184,370 185.5,369.5 C187.5,369 190,405 192.8,430.1 L200,430.1 C201.5,415 201.5,399.4 205,399.4 L226,398.5 C229,398.5 230,418 232.8,430.1 L238.6,430.1 C240,420 239.5,417.8 243,417.8 C248,418 252,418.8 256,418.8 C261,418.5 265,417 268,417.2 C270,417.5 271.5,426 273.4,430.1 L282,430.1" fill="#e8b3b6" stroke="#555" stroke-width="1.1"/>
<text x="176.6" y="361" font-size="10.1" >Mistouch protection</text>
<text x="248" y="376.7" font-size="8.7" >Mistouch</text>
<text x="254.3" y="390.5" font-size="8.5" >Trigger</text>
<path d="M285.3,372 L285.3,391" stroke="#999" stroke-width="0.6"/><path d="M284.3,372.8 L285.3,370.6 L286.3,372.8z M284.3,390 L285.3,392.2 L286.3,390z" fill="#555"/>
<path d="M274,299.4 L285.3,299.4 M333.9,299.4 L397,299.4 M309,319.2 L309,342 L383,342 L383,400" stroke="#8aa6cc" stroke-width="1.1" fill="none"/>
<path d="M396.5,296.4 L402.1,299.4 L396.5,302.4z M380,399.5 L383,405 L386,399.5z" fill="#8aa6cc"/>
<polygon points="285.3,299.4 309,280.2 333.9,299.4 309,319.2" fill="#fff" stroke="#8aa6cc" stroke-width="1.1"/>
<text x="294.5" y="297.3" font-size="9.9" >Action</text>
<text x="295" y="304.7" font-size="9.9" >presort</text>
<text x="354.8" y="296.2" font-size="10" >Slide</text>
<text x="327.1" y="311.8" font-size="10" >ΔL &gt; Set range</text>
<text x="325.8" y="339.5" font-size="10" >Keystroke</text>
<text x="312.5" y="354.25" font-size="10" >ΔL &lt; Set range</text>
<path d="M275,415 L369,415 M363,415 L363,361.25 L396,361.25" stroke="#e89a9a" stroke-width="1.1" fill="none"/>
<path d="M369,412 L374.5,415 L369,418z M395.5,358.25 L401.25,361.25 L395.5,364.25z" fill="#e89a9a"/>
<circle cx="382.5" cy="415" r="7.3" fill="#fff" stroke="#333" stroke-width="1.1"/>
<path d="M375.2,415 L389.8,415 M382.5,407.7 L382.5,422.3" stroke="#333" stroke-width="1"/>
<path d="M389.8,415.5 L514,415.5" stroke="#444" stroke-width="1.1"/><path d="M513.6,412.5 L519.6,415.5 L513.6,418.5z" fill="#444"/>
<text x="388" y="404.6" font-size="10" >Keystroke action recognition</text>
<rect x="395.3" y="279.2" width="139.3" height="99.5" rx="5" fill="none" stroke="#9a9a9a" stroke-width="1" stroke-dasharray="3.4 3"/>
<text x="415.1" y="273.9" font-size="10" >Slide action recognition</text>
<rect x="402.4" y="281.3" width="29.1" height="43.7" rx="3" fill="#dfe7f3" stroke="#cbd8ea" stroke-width="0.6"/>
<rect x="402.3" y="330.9" width="30" height="43.7" rx="3" fill="#fbe6e6" stroke="#f0cfcf" stroke-width="0.6"/>
<rect x="436.5" y="299.4" width="45" height="56.6" rx="3" fill="#eef2e7" stroke="#dfe5d6" stroke-width="0.6"/>
<rect x="513.3" y="285.8" width="17.2" height="86.2" rx="4" fill="#e5e2ec" stroke="#d6d2e0" stroke-width="0.6"/>
<g stroke="#bbb" stroke-width="0.35">
<line x1="410.2" y1="288.8" x2="424.1" y2="288.8"/>
<line x1="410.2" y1="288.8" x2="424.1" y2="302.6"/>
<line x1="410.2" y1="288.8" x2="424.1" y2="317.1"/>
<line x1="410.2" y1="302.6" x2="424.1" y2="288.8"/>
<line x1="410.2" y1="302.6" x2="424.1" y2="302.6"/>
<line x1="410.2" y1="302.6" x2="424.1" y2="317.1"/>
<line x1="410.2" y1="317.1" x2="424.1" y2="288.8"/>
<line x1="410.2" y1="317.1" x2="424.1" y2="302.6"/>
<line x1="410.2" y1="317.1" x2="424.1" y2="317.1"/>
<line x1="409.7" y1="338.6" x2="424.1" y2="338.6"/>
<line x1="409.7" y1="338.6" x2="424.1" y2="352.8"/>
<line x1="409.7" y1="338.6" x2="424.1" y2="366.4"/>
<line x1="409.7" y1="352.8" x2="424.1" y2="338.6"/>
<line x1="409.7" y1="352.8" x2="424.1" y2="352.8"/>
<line x1="409.7" y1="352.8" x2="424.1" y2="366.4"/>
<line x1="409.7" y1="366.4" x2="424.1" y2="338.6"/>
<line x1="409.7" y1="366.4" x2="424.1" y2="352.8"/>
<line x1="409.7" y1="366.4" x2="424.1" y2="366.4"/>
<line x1="424.1" y1="288.8" x2="445.4" y2="306.9"/>
<line x1="424.1" y1="288.8" x2="445.4" y2="320.7"/>
<line x1="424.1" y1="288.8" x2="445.4" y2="334.6"/>
<line x1="424.1" y1="288.8" x2="445.4" y2="348.5"/>
<line x1="424.1" y1="302.6" x2="445.4" y2="306.9"/>
<line x1="424.1" y1="302.6" x2="445.4" y2="320.7"/>
<line x1="424.1" y1="302.6" x2="445.4" y2="334.6"/>
<line x1="424.1" y1="302.6" x2="445.4" y2="348.5"/>
<line x1="424.1" y1="317.1" x2="445.4" y2="306.9"/>
<line x1="424.1" y1="317.1" x2="445.4" y2="320.7"/>
<line x1="424.1" y1="317.1" x2="445.4" y2="334.6"/>
<line x1="424.1" y1="317.1" x2="445.4" y2="348.5"/>
<line x1="424.1" y1="338.6" x2="445.4" y2="306.9"/>
<line x1="424.1" y1="338.6" x2="445.4" y2="320.7"/>
<line x1="424.1" y1="338.6" x2="445.4" y2="334.6"/>
<line x1="424.1" y1="338.6" x2="445.4" y2="348.5"/>
<line x1="424.1" y1="352.8" x2="445.4" y2="306.9"/>
<line x1="424.1" y1="352.8" x2="445.4" y2="320.7"/>
<line x1="424.1" y1="352.8" x2="445.4" y2="334.6"/>
<line x1="424.1" y1="352.8" x2="445.4" y2="348.5"/>
<line x1="424.1" y1="366.4" x2="445.4" y2="306.9"/>
<line x1="424.1" y1="366.4" x2="445.4" y2="320.7"/>
<line x1="424.1" y1="366.4" x2="445.4" y2="334.6"/>
<line x1="424.1" y1="366.4" x2="445.4" y2="348.5"/>
<line x1="445.4" y1="306.9" x2="460.3" y2="313.3"/>
<line x1="445.4" y1="306.9" x2="460.3" y2="327.8"/>
<line x1="445.4" y1="306.9" x2="460.3" y2="341.6"/>
<line x1="445.4" y1="320.7" x2="460.3" y2="313.3"/>
<line x1="445.4" y1="320.7" x2="460.3" y2="327.8"/>
<line x1="445.4" y1="320.7" x2="460.3" y2="341.6"/>
<line x1="445.4" y1="334.6" x2="460.3" y2="313.3"/>
<line x1="445.4" y1="334.6" x2="460.3" y2="327.8"/>
<line x1="445.4" y1="334.6" x2="460.3" y2="341.6"/>
<line x1="445.4" y1="348.5" x2="460.3" y2="313.3"/>
<line x1="445.4" y1="348.5" x2="460.3" y2="327.8"/>
<line x1="445.4" y1="348.5" x2="460.3" y2="341.6"/>
<line x1="460.3" y1="313.3" x2="474.6" y2="321.2"/>
<line x1="460.3" y1="313.3" x2="474.6" y2="334.6"/>
<line x1="460.3" y1="327.8" x2="474.6" y2="321.2"/>
<line x1="460.3" y1="327.8" x2="474.6" y2="334.6"/>
<line x1="460.3" y1="341.6" x2="474.6" y2="321.2"/>
<line x1="460.3" y1="341.6" x2="474.6" y2="334.6"/>
</g>
<circle cx="410.2" cy="288.8" r="4.7" fill="#8fb0d6"/>
<circle cx="410.2" cy="302.6" r="4.7" fill="#8fb0d6"/>
<circle cx="410.2" cy="317.1" r="4.7" fill="#8fb0d6"/>
<circle cx="424.1" cy="288.8" r="4.7" fill="#2d67b6"/>
<circle cx="424.1" cy="302.6" r="4.7" fill="#2d67b6"/>
<circle cx="424.1" cy="317.1" r="4.7" fill="#2d67b6"/>
<circle cx="409.7" cy="338.6" r="4.7" fill="#ef8f8f"/>
<circle cx="409.7" cy="352.8" r="4.7" fill="#ef8f8f"/>
<circle cx="409.7" cy="366.4" r="4.7" fill="#ef8f8f"/>
<circle cx="424.1" cy="338.6" r="4.7" fill="#9c4d60"/>
<circle cx="424.1" cy="352.8" r="4.7" fill="#9c4d60"/>
<circle cx="424.1" cy="366.4" r="4.7" fill="#9c4d60"/>
<circle cx="445.4" cy="306.9" r="4.7" fill="#9dbfa6"/>
<circle cx="445.4" cy="320.7" r="4.7" fill="#9dbfa6"/>
<circle cx="445.4" cy="334.6" r="4.7" fill="#9dbfa6"/>
<circle cx="445.4" cy="348.5" r="4.7" fill="#9dbfa6"/>
<circle cx="460.3" cy="313.3" r="4.7" fill="#6e9f8a"/>
<circle cx="460.3" cy="327.8" r="4.7" fill="#6e9f8a"/>
<circle cx="460.3" cy="341.6" r="4.7" fill="#6e9f8a"/>
<circle cx="474.6" cy="321.2" r="4.7" fill="#12696c"/>
<circle cx="474.6" cy="334.6" r="4.7" fill="#12696c"/>
<path d="M484.8,328.2 L494,328.2" stroke="#444" stroke-width="1.1"/><path d="M493.5,325.2 L499.7,328.2 L493.5,331.2z" fill="#444"/>
<text transform="translate(510.6,351.6) rotate(-90)" font-size="8.6">Classification</text>
<circle cx="521.9" cy="297" r="4.9" fill="#b3a3c8"/>
<circle cx="521.9" cy="310.7" r="4.9" fill="#b3a3c8"/>
<circle cx="521.9" cy="341.4" r="4.9" fill="#b3a3c8"/>
<circle cx="521.9" cy="355" r="4.9" fill="#b3a3c8"/>
<circle cx="521.9" cy="318.6" r="1" fill="#444"/>
<circle cx="521.9" cy="323.2" r="1" fill="#444"/>
<circle cx="521.9" cy="327.7" r="1" fill="#444"/>
<circle cx="521.9" cy="332.3" r="1" fill="#444"/>
<path d="M536.3,327.8 L545,327.8" stroke="#444" stroke-width="1.1"/><path d="M544.5,324.8 L550.2,327.8 L544.5,330.8z" fill="#444"/>
<path d="M593.4,267.2 L556.3,267.2 Q551.3,267.2 551.3,272.2 L551.3,393.8 Q551.3,398.8 556.3,398.8 L593.4,398.8z" fill="#fce9e7"/>
<path d="M596.8,267.2 L640,267.2 Q645,267.2 645,272.2 L645,393.8 Q645,398.8 640,398.8 L596.8,398.8z" fill="#eef1e6"/>
<text x="570" y="276.7" font-size="8.8" text-anchor="middle" >State</text>
<text x="570" y="284.6" font-size="8.8" text-anchor="middle" >record</text>
<text x="621.7" y="276.5" font-size="8.8" text-anchor="middle" >Emergency</text>
<text x="621.7" y="284.6" font-size="8.8" text-anchor="middle" >call</text>
<text x="573.9" y="322.6" font-size="8.8" text-anchor="middle" >Working</text>
<text x="570.8" y="359.5" font-size="8.8" text-anchor="middle" >Entertain</text>
<text x="572.5" y="398" font-size="8.8" text-anchor="middle" >Rest</text>
<text x="623.2" y="323.6" font-size="8.8" text-anchor="middle" >Fire</text>
<text x="622" y="359.5" font-size="8.8" text-anchor="middle" >Medicine</text>
<text x="622" y="398" font-size="8.8" text-anchor="middle" >Police</text>
<path d="M563.2,299.3 L585,299.3" stroke="#c09a70" stroke-width="1.2"/>
<path d="M564.0,299.3 L563.2,312.3 M584.2,299.3 L584.8,312.3" stroke="#c09a70" stroke-width="0.8"/>
<path d="M563.6999999999999,296.8 L566.1,296.8 L565.6999999999999,298.8 L564.1,298.8z" fill="#d58a3a"/>
<ellipse cx="564.9" cy="295.0" rx="1.3" ry="2" fill="#4e8a5a"/>
<rect x="577.4" y="295.4" width="5" height="3.4" fill="#6f95c8"/>
<path d="M569.7,305.0 L569.7,310.3" stroke="#9bb7a0" stroke-width="0.9"/>
<path d="M567.2,311.5 L572.2,311.5" stroke="#e0a050" stroke-width="1.2"/>
<ellipse cx="569.7" cy="302.5" rx="3" ry="3.3000000000000003" fill="#e46a55"/>
<path d="M570.5,300.5 L577,301.5 L582.3,308.9" fill="none" stroke="#6e96cb" stroke-width="2.1" stroke-linejoin="round"/>
<path d="M568.3,295 C569,293.8 575,293.8 576.1,295 L576,300.8 L569,300.8z" fill="#5aa67c"/>
<circle cx="572.7" cy="292" r="1.9" fill="#e3a57c"/><path d="M570.8,291.5 A1.9,1.9 0 0 1 574.6,291.5z" fill="#b0703a"/>
<path d="M561.8,339 L583,339" stroke="#c09a70" stroke-width="1.2"/>
<path d="M562.5999999999999,339 L561.8,351.6 M582.2,339 L582.8,351.6" stroke="#c09a70" stroke-width="0.8"/>
<path d="M562.3,337 L564.7,337 L564.3,339 L562.7,339z" fill="#d58a3a"/>
<ellipse cx="563.5" cy="335.2" rx="1.3" ry="2" fill="#4e8a5a"/>
<rect x="576.8" y="335.4" width="5" height="3.4" fill="#6f95c8"/>
<path d="M568,345.5 L568,349.6" stroke="#9bb7a0" stroke-width="0.9"/>
<path d="M565.5,350.8 L570.5,350.8" stroke="#e0a050" stroke-width="1.2"/>
<ellipse cx="568" cy="342.5" rx="3.5" ry="3.8500000000000005" fill="#e46a55"/>
<path d="M571,341.5 L576.5,342.5 L580.5,350" fill="none" stroke="#6e96cb" stroke-width="2.1" stroke-linejoin="round"/>
<path d="M565.2,334 C566,333 574.5,333 575.4,334 L575,341.4 L566,341.4z" fill="#a95b72"/>
<path d="M566,334.5 L565.5,330.5 M574.5,334.5 L575.5,330.5" stroke="#a95b72" stroke-width="1.6" stroke-linecap="round"/>
<circle cx="570.7" cy="331.6" r="1.9" fill="#e3a57c"/><path d="M568.8,331 A1.9,1.9 0 0 1 572.6,331z" fill="#b0703a"/>
<path d="M562,375.3 L584,375.3" stroke="#c09a70" stroke-width="1.2"/>
<path d="M562.8,375.3 L562,389.3 M583.2,375.3 L583.8,389.3" stroke="#c09a70" stroke-width="0.8"/>
<path d="M562.5999999999999,373 L565.0,373 L564.5999999999999,375 L563.0,375z" fill="#d58a3a"/>
<ellipse cx="563.8" cy="371.2" rx="1.3" ry="2" fill="#4e8a5a"/>
<path d="M568.6,381.0 L568.6,387.3" stroke="#9bb7a0" stroke-width="0.9"/>
<path d="M566.1,388.5 L571.1,388.5" stroke="#e0a050" stroke-width="1.2"/>
<ellipse cx="568.6" cy="378" rx="3.5" ry="3.8500000000000005" fill="#e46a55"/>
<path d="M573,377.5 L575.4,378.5 L575.4,388" fill="none" stroke="#6e96cb" stroke-width="2.1" stroke-linejoin="round"/>
<path d="M570,373 C572,370.5 577,370 580.2,371.5 L580,376 L577,377.7 L571,377.7z" fill="#3c66ab"/>
<circle cx="578.6" cy="371.6" r="1.9" fill="#e3a57c"/><path d="M577,370.2 A1.9,1.9 0 0 1 580.5,371.5z" fill="#b0703a"/>
<path d="M610.6,304.6 L621.2,296.5 L625.8,299.8 L624.2,311.9 L614.7,311.9 L614.7,306.2 L612.2,306.4z" fill="#a9464c"/>
<path d="M623.6,311 C622.6,307 624,303 626.7,297.6 C627.5,300 628.6,302 630,303.5 C632,306 633,308 632.8,310 C632.5,312 630,313 628,312.8 C626,312.8 624.6,312.4 623.6,311z" fill="#a9464c" stroke="#f3f5ee" stroke-width="0.5"/>
<path d="M626.2,311.6 C625.8,309.6 626.6,308 627.8,306.6 C628.6,308 630,309.2 630,310.8 C629.8,312 628.6,312.3 627.8,312.3z" fill="#fff"/>
<rect x="616.3" y="332.1" width="11.6" height="19.4" rx="2" fill="#2e2e2e"/>
<rect x="618" y="334.8" width="8.1" height="12.6" fill="#fbfbfb"/>
<rect x="620.2" y="332.5" width="3.6" height="1" fill="#b29560"/>
<path d="M621.9,338 L621.9,344 M618.9,341 L624.9,341" stroke="#d64b3a" stroke-width="2"/>
<path d="M618,371.5 L618,368.5 C618.5,367 625.3,367 625.8,368.5 L625.8,371.5z" fill="#1e1e1e"/>
<path d="M619,371.5 L625,371.5 L624.8,375.5 C624,377.5 623,378.2 622,378.2 C621,378.2 620,377.5 619.2,375.5z" fill="#dcae86"/>
<path d="M613.2,387.9 L613.2,382 C613.5,380 616,378.8 619.5,378.3 L622,380 L624.5,378.3 C628,378.8 630,380 630.2,382 L630.2,387.9z" fill="#1c1c1c"/>
<circle cx="626.5" cy="384.3" r="1.1" fill="#e3bb4a"/><rect x="615.3" y="383.2" width="3.5" height="1.3" fill="#777"/>
<rect x="521.3" y="403.5" width="123" height="29.2" rx="5" fill="#e4e8ef"/>
<text x="527" y="415" font-size="8.8" >Device</text>
<text x="527" y="425.8" font-size="8.8" >control</text>
<circle cx="572.1" cy="417.8" r="12.6" fill="#f4f6fa"/>
<circle cx="572.1" cy="417.8" r="12" fill="#2765b0"/>
<circle cx="600.2" cy="417.8" r="12.6" fill="#f4f6fa"/>
<circle cx="600.2" cy="417.8" r="12" fill="#2765b0"/>
<circle cx="629" cy="417.8" r="12.6" fill="#f4f6fa"/>
<circle cx="629" cy="417.8" r="12" fill="#2765b0"/>
<rect x="566" y="410.3" width="12.3" height="15.7" fill="#fff"/>
<path d="M570,410.3 C571.5,414 571,418 569.8,421 C569.5,423 570.5,424.5 571.2,426 L573,426 C573.7,424.5 574.7,423 574.4,421 C573.2,418 572.7,414 574.2,410.3z" fill="#2765b0"/>
<path d="M592.7,413.3 Q592.7,412.3 593.7,412.3 L606.7,412.3 Q607.7,412.3 607.7,413.3 L607.7,423.5 L592.7,423.5z" fill="#fff"/><rect x="593.5" y="423" width="2.2" height="2.3" fill="#fff"/><rect x="604.8" y="423" width="2.2" height="2.3" fill="#fff"/>
<circle cx="629" cy="417.1" r="4.6" fill="#fff"/><path d="M629,412.5 A4.6,4.6 0 0 1 629,421.7z" fill="#d7d3ea"/><rect x="627" y="421.3" width="4" height="1.4" fill="#fff"/><rect x="627.6" y="423" width="2.8" height="1.2" fill="#fff"/>
<line x1="622.70" y1="417.10" x2="621.00" y2="417.10" stroke="#fff" stroke-width="0.9"/>
<line x1="624.55" y1="412.65" x2="623.34" y2="411.44" stroke="#fff" stroke-width="0.9"/>
<line x1="629.00" y1="410.80" x2="629.00" y2="409.10" stroke="#fff" stroke-width="0.9"/>
<line x1="633.45" y1="412.65" x2="634.66" y2="411.44" stroke="#fff" stroke-width="0.9"/>
<line x1="635.30" y1="417.10" x2="637.00" y2="417.10" stroke="#fff" stroke-width="0.9"/>
<line x1="624.55" y1="421.55" x2="623.34" y2="422.76" stroke="#fff" stroke-width="0.9"/>
<line x1="633.45" y1="421.55" x2="634.66" y2="422.76" stroke="#fff" stroke-width="0.9"/>
</svg>
</body></html>
